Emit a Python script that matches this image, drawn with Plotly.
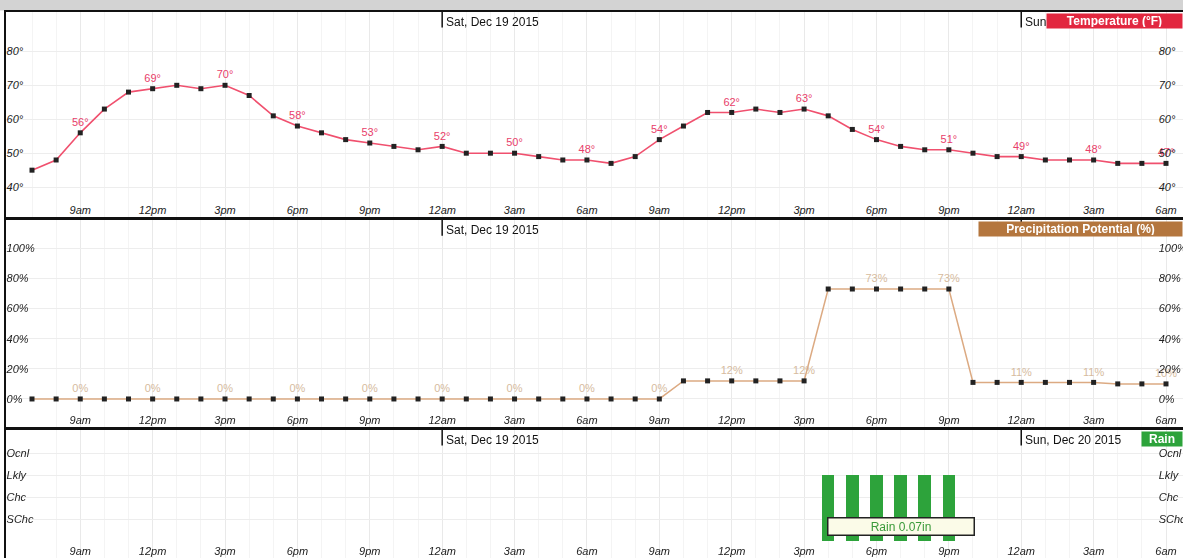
import pandas as pd
import plotly.graph_objects as go

# ---------------- data ----------------
hours = pd.date_range("2015-12-18 07:00", "2015-12-20 06:00", freq="h")

temps = [45, 48, 56, 63, 68, 69, 70, 69, 70, 67, 61, 58, 56, 54, 53, 52, 51,
         52, 50, 50, 50, 49, 48, 48, 47, 49, 54, 58, 62, 62, 63, 62, 63, 61, 57, 54, 52, 51, 51, 50, 49,
         49, 48, 48, 48, 47, 47, 47]

precip = [0, 0, 0, 0, 0, 0, 0, 0, 0, 0, 0, 0, 0, 0, 0, 0, 0,
          0, 0, 0, 0, 0, 0, 0, 0, 0, 0, 12, 12, 12, 12, 12, 12, 73, 73, 73, 73, 73, 73, 11, 11,
          11, 11, 11, 11, 10, 10, 10]

rain_hours = ["2015-12-19 16:00", "2015-12-19 17:00", "2015-12-19 18:00",
              "2015-12-19 19:00", "2015-12-19 20:00", "2015-12-19 21:00"]
rain_chance = ["Lkly", "Lkly", "Lkly", "Lkly", "Lkly", "Lkly"]
chance_levels = ["SChc", "Chc", "Lkly", "Ocnl"]
chance_values = [1, 2, 3, 4]
rain_total = "0.07in"

tick_times = ["2015-12-18 09:00", "2015-12-18 12:00", "2015-12-18 15:00", "2015-12-18 18:00",
              "2015-12-18 21:00", "2015-12-19 00:00", "2015-12-19 03:00", "2015-12-19 06:00",
              "2015-12-19 09:00", "2015-12-19 12:00", "2015-12-19 15:00", "2015-12-19 18:00",
              "2015-12-19 21:00", "2015-12-20 00:00", "2015-12-20 03:00", "2015-12-20 06:00"]
tick_labels = ["9am", "12pm", "3pm", "6pm", "9pm", "12am", "3am", "6am",
               "9am", "12pm", "3pm", "6pm", "9pm", "12am", "3am", "6am"]

temp_ticks = [40, 50, 60, 70, 80]
precip_ticks = [0, 20, 40, 60, 80, 100]

day_marks = ["2015-12-19 00:00", "2015-12-20 00:00"]
day_labels = ["Sat, Dec 19 2015", "Sun, Dec 20 2015"]

panel_titles = ["Temperature (°F)", "Precipitation Potential (%)", "Rain"]

# ---------------- styling ----------------
FONT = "Arial, Liberation Sans, sans-serif"
TEMP_LINE = "#f0506e"
TEMP_TEXT = "#e8406a"
PRECIP_LINE = "#dcaa82"
PRECIP_TEXT = "#d6bb9e"
RAIN_GREEN = "#2da33b"
XRANGE = ["2015-12-18 05:55:21", "2015-12-20 06:42:16"]

dom1 = [0.6111, 0.9785]
dom2 = [0.2348, 0.6057]
dom3 = [0.0, 0.2294]

temp_text = [f"{t}°" if h.hour % 3 == 0 else "" for h, t in zip(hours, temps)]
precip_text = [f"{p}%" if h.hour % 3 == 0 else "" for h, p in zip(hours, precip)]

fig = go.Figure()

fig.add_trace(go.Scatter(
    x=hours, y=temps, mode="lines+markers+text", text=temp_text,
    textposition="top center", textfont=dict(color=TEMP_TEXT, size=11, family=FONT),
    line=dict(color=TEMP_LINE, width=1.6),
    marker=dict(symbol="square", size=5, color="#222"),
    xaxis="x", yaxis="y", showlegend=False, hoverinfo="skip"))

fig.add_trace(go.Scatter(
    x=hours, y=precip, mode="lines+markers+text", text=precip_text,
    textposition="top center", textfont=dict(color=PRECIP_TEXT, size=11, family=FONT),
    line=dict(color=PRECIP_LINE, width=1.5),
    marker=dict(symbol="square", size=5, color="#222"),
    xaxis="x2", yaxis="y2", showlegend=False, hoverinfo="skip"))

level_map = dict(zip(chance_levels, chance_values))
fig.add_trace(go.Bar(
    x=rain_hours, y=[level_map[c] for c in rain_chance],
    width=0.52 * 3600000, marker=dict(color=RAIN_GREEN, line=dict(width=0)),
    xaxis="x3", yaxis="y3", showlegend=False, hoverinfo="skip"))

# invisible traces for the right-hand duplicate axes
for xa, ya, yv in (("x", "y4", temps), ("x2", "y5", precip), ("x3", "y6", [1] * len(hours))):
    fig.add_trace(go.Scatter(x=hours, y=yv, mode="markers", opacity=0,
                             xaxis=xa, yaxis=ya, showlegend=False, hoverinfo="skip"))

it = lambda s: [f"<i>{v}</i>" for v in s]

xcommon = dict(type="date", range=XRANGE, tickvals=tick_times, ticktext=it(tick_labels),
               ticklabelposition="inside", ticks="", showline=True, mirror=True,
               linecolor="#111", linewidth=2, showgrid=True, gridcolor="#e9e9e9",
               minor=dict(dtick=3600000, showgrid=True, gridcolor="#f4f4f4"),
               tickfont=dict(size=11, color="#222", family=FONT), zeroline=False)

ycommon = dict(ticklabelposition="inside", ticks="", showline=True, linecolor="#111",
               linewidth=1.5, showgrid=True, gridcolor="#ededed", zeroline=False,
               tickfont=dict(size=11, color="#222", family=FONT))

yright = dict(ticklabelposition="outside", ticks="", showline=False, showgrid=False,
              zeroline=False, side="right", anchor="free", position=0.9785,
              automargin=False,
              tickfont=dict(size=11, color="#222", family=FONT))

fig.update_layout(
    width=1183, height=558,
    margin=dict(l=6, r=0, t=0, b=0, autoexpand=False),
    paper_bgcolor="white", plot_bgcolor="white",
    font=dict(family=FONT, color="#222"),
    bargap=0,
    xaxis=dict(xcommon, anchor="y"),
    xaxis2=dict(xcommon, anchor="y2", matches="x"),
    xaxis3=dict(xcommon, anchor="y3", matches="x"),
    yaxis=dict(ycommon, domain=dom1, range=[31.2, 91.6], tickvals=temp_ticks,
               ticktext=it([f"{v}°" for v in temp_ticks]), anchor="x"),
    yaxis2=dict(ycommon, domain=dom2, range=[-18.6, 118.8], tickvals=precip_ticks,
                ticktext=it([f"{v}%" for v in precip_ticks]), anchor="x2"),
    yaxis3=dict(ycommon, domain=dom3, range=[-0.77, 5.05], tickvals=chance_values,
                ticktext=it(chance_levels), anchor="x3"),
    yaxis4=dict(yright, overlaying="y", range=[31.2, 91.6], tickvals=temp_ticks,
                ticktext=it([f"{v}°" for v in temp_ticks])),
    yaxis5=dict(yright, overlaying="y2", range=[-18.6, 118.8], tickvals=precip_ticks,
                ticktext=it([f"{v}%" for v in precip_ticks])),
    yaxis6=dict(yright, overlaying="y3", range=[-0.77, 5.05], tickvals=chance_values,
                ticktext=it(chance_levels)),
)

shapes = []
annotations = []

# gray page header strip
shapes.append(dict(type="rect", xref="paper", yref="paper", x0=-0.01, x1=1.01,
                   y0=0.981, y1=1.0, fillcolor="#d3d3d3", line=dict(width=0), layer="below"))

# date markers in each panel
for dom in (dom1, dom2, dom3):
    for d, lab in zip(day_marks, day_labels):
        shapes.append(dict(type="line", xref="x", yref="paper", x0=d, x1=d,
                           y0=dom[1] - 0.028, y1=dom[1], line=dict(color="#111", width=1.5)))
        annotations.append(dict(text=lab, xref="x", yref="paper", x=d, y=dom[1] - 0.002,
                                xanchor="left", yanchor="top", xshift=2, showarrow=False,
                                font=dict(size=12, color="#111", family=FONT)))

# panel title boxes
for dom, title, col, w in ((dom1, panel_titles[0], "#e2273f", 133),
                           (dom2, panel_titles[1], "#b4763e", 201),
                           (dom3, panel_titles[2], RAIN_GREEN, 38)):
    annotations.append(dict(text=f"<b>{title}</b>", xref="paper", yref="paper", x=1.0,
                            y=dom[1] - 0.002, xanchor="right", yanchor="top", showarrow=False,
                            bgcolor=col, width=w, height=12, borderpad=1,
                            font=dict(size=12, color="white", family=FONT)))

# rain total box
annotations.append(dict(text=f"Rain {rain_total}", xref="x3", yref="y3",
                        x="2015-12-19 19:00", y=0.68, showarrow=False,
                        bgcolor="#fbfbe8", bordercolor="#222", borderwidth=1.5,
                        width=143, height=14, borderpad=1,
                        font=dict(size=12, color="#3a9a3a", family=FONT)))

fig.update_layout(shapes=shapes, annotations=annotations)

fig.write_html("out.html", config={"displayModeBar": False},
               post_script="document.body.style.margin='0';document.body.style.overflow='hidden';")
